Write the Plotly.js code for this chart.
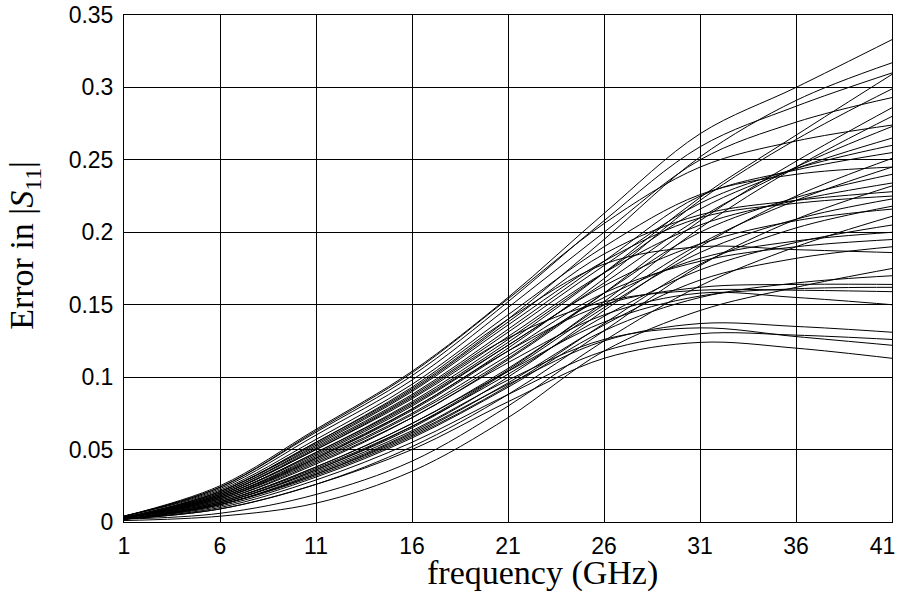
<!DOCTYPE html>
<html>
<head>
<meta charset="utf-8">
<script src="https://cdn.plot.ly/plotly-3.0.1.min.js"></script>
<style>html,body{margin:0;padding:0;background:#fff;}#chart{width:897px;height:596px;}</style>
</head>
<body>
<div id="chart"></div>
<script>
// frequency samples (GHz)
const freq = [1, 6, 11, 16, 21, 26, 31, 36, 41];
const xTicks = [1, 6, 11, 16, 21, 26, 31, 36, 41];
const xTickText = ['1', '6', '11', '16', '21', '26', '31', '36', '41\u00a0\u00a0\u00a0'];
const yTicks = [0, 0.05, 0.1, 0.15, 0.2, 0.25, 0.3, 0.35];
const yTickText = ['0', '0.05', '0.1', '0.15', '0.2', '0.25', '0.3', '0.35'];

// error curves in |S11|
const c01 = [0.004,0.025,0.064,0.104,0.155,0.213,0.268,0.300,0.333];
const c02 = [0.003,0.021,0.055,0.092,0.140,0.195,0.252,0.291,0.317];
const c03 = [0.004,0.024,0.062,0.101,0.152,0.208,0.259,0.287,0.310];
const c04 = [0.003,0.018,0.048,0.082,0.124,0.172,0.224,0.267,0.309];
const c05 = [0.003,0.016,0.044,0.078,0.120,0.168,0.222,0.264,0.299];
const c06 = [0.004,0.023,0.060,0.098,0.148,0.200,0.250,0.276,0.293];
const c07 = [0.003,0.015,0.040,0.072,0.112,0.158,0.208,0.249,0.286];
const c08 = [0.004,0.024,0.063,0.103,0.154,0.206,0.245,0.263,0.274];
const c09 = [0.003,0.017,0.046,0.080,0.122,0.165,0.210,0.245,0.273];
const c10 = [0.003,0.020,0.052,0.088,0.133,0.180,0.225,0.243,0.255];
const c11 = [0.002,0.012,0.034,0.062,0.100,0.146,0.190,0.225,0.251];
const c12 = [0.004,0.022,0.057,0.095,0.143,0.190,0.226,0.240,0.245];
const c13 = [0.003,0.014,0.038,0.068,0.106,0.150,0.192,0.222,0.245];
const c14 = [0.003,0.019,0.050,0.085,0.128,0.172,0.205,0.222,0.234];
const c15 = [0.002,0.009,0.026,0.052,0.088,0.132,0.177,0.209,0.232];
const c16 = [0.003,0.020,0.053,0.090,0.136,0.180,0.210,0.220,0.225];
const c17 = [0.002,0.013,0.036,0.065,0.104,0.148,0.186,0.209,0.223];
const c18 = [0.003,0.018,0.047,0.081,0.122,0.163,0.192,0.208,0.216];
const c19 = [0.002,0.006,0.019,0.042,0.080,0.125,0.163,0.190,0.211];
const c20 = [0.003,0.016,0.043,0.075,0.115,0.155,0.182,0.194,0.200];
const c21 = [0.002,0.012,0.033,0.060,0.096,0.136,0.167,0.182,0.190];
const c22 = [0.003,0.021,0.055,0.093,0.140,0.178,0.190,0.188,0.186];
const c23 = [0.001,0.004,0.013,0.035,0.072,0.118,0.146,0.162,0.175];
const c24 = [0.003,0.017,0.045,0.078,0.118,0.150,0.162,0.164,0.164];
const c25 = [0.002,0.014,0.038,0.068,0.104,0.138,0.156,0.161,0.162];
const c26 = [0.003,0.019,0.050,0.086,0.127,0.152,0.160,0.160,0.159];
const c27 = [0.003,0.015,0.041,0.072,0.110,0.143,0.158,0.155,0.150];
const c28 = [0.002,0.012,0.033,0.061,0.095,0.125,0.137,0.135,0.131];
const c29 = [0.002,0.010,0.029,0.055,0.088,0.118,0.130,0.129,0.126];
const c30 = [0.002,0.013,0.035,0.063,0.098,0.126,0.134,0.128,0.122];
const c31 = [0.002,0.009,0.026,0.050,0.083,0.113,0.124,0.120,0.113];
const c32 = [0.003,0.018,0.048,0.083,0.126,0.172,0.216,0.244,0.265];
const c33 = [0.003,0.016,0.042,0.074,0.113,0.158,0.200,0.224,0.240];
const c34 = [0.002,0.014,0.037,0.066,0.102,0.142,0.174,0.193,0.205];
const c35 = [0.003,0.017,0.044,0.077,0.118,0.158,0.180,0.190,0.195];
const c36 = [0.002,0.011,0.031,0.058,0.093,0.132,0.155,0.165,0.170];
const c37 = [0.002,0.013,0.036,0.066,0.105,0.152,0.203,0.245,0.280];
const c38 = [0.003,0.021,0.054,0.091,0.138,0.185,0.212,0.222,0.228];
const c39 = [0.003,0.019,0.051,0.087,0.131,0.177,0.220,0.244,0.260];
const c40 = [0.002,0.012,0.032,0.059,0.094,0.137,0.178,0.203,0.218];

const curves = [c01,c02,c03,c04,c05,c06,c07,c08,c09,c10,c11,c12,c13,c14,c15,c16,c17,c18,c19,c20,
                c21,c22,c23,c24,c25,c26,c27,c28,c29,c30,c31,c32,c33,c34,c35,c36,c37,c38,c39,c40];

const traces = curves.map(function (c) {
  return {x: freq, y: c, type: 'scatter', mode: 'lines',
          line: {color: '#000', width: 1, shape: 'spline', smoothing: 1},
          hoverinfo: 'skip', showlegend: false};
});

const tickFont = {family: 'Liberation Sans, Arial, sans-serif', size: 23, color: '#000'};
const titleFont = {family: 'Liberation Serif, Times New Roman, serif', size: 34, color: '#000'};

const layout = {
  width: 897, height: 596,
  margin: {l: 124, r: 5, t: 15, b: 74},
  paper_bgcolor: '#fff', plot_bgcolor: '#fff',
  showlegend: false,
  xaxis: {
    range: [1, 41], tickvals: xTicks, ticktext: xTickText,
    showgrid: true, gridcolor: '#000', gridwidth: 1,
    showline: true, linecolor: '#000', linewidth: 1, mirror: true,
    ticks: 'inside', ticklen: 4, tickcolor: '#000',
    ticklabelstandoff: 3, ticklabeloverflow: 'allow',
    zeroline: false, tickfont: tickFont
  },
  yaxis: {
    range: [0, 0.35], tickvals: yTicks, ticktext: yTickText,
    showgrid: true, gridcolor: '#000', gridwidth: 1,
    showline: true, linecolor: '#000', linewidth: 1, mirror: true,
    ticks: 'inside', ticklen: 4, tickcolor: '#000',
    ticklabelstandoff: 5, ticklabeloverflow: 'allow',
    zeroline: false, tickfont: tickFont
  },
  annotations: [
    {text: 'frequency (GHz)', xref: 'paper', yref: 'paper', x: 0.5455, y: -0.1006,
     xanchor: 'center', yanchor: 'middle', showarrow: false, font: titleFont},
    {text: 'Error in |<i>S</i><sub>11</sub>|', xref: 'paper', yref: 'paper', x: -0.13, y: 0.545,
     xanchor: 'center', yanchor: 'middle', textangle: -90, showarrow: false, font: titleFont}
  ]
};

Plotly.newPlot('chart', traces, layout, {displayModeBar: false, staticPlot: true});
</script>
</body>
</html>
